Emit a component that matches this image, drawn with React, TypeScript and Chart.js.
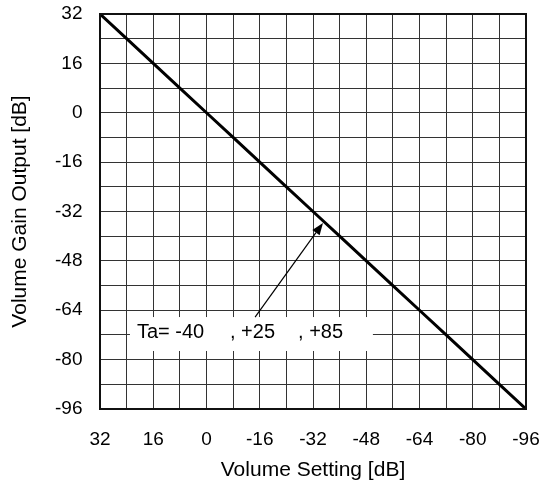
import React, { useEffect, useRef } from 'react';
import { Chart, registerables } from 'chart.js';

Chart.register(...registerables);

// Data
const volumeSetting = [32, 24, 16, 8, 0, -8, -16, -24, -32, -40, -48, -56, -64, -72, -80, -88, -96];
const gainOutput = [32, 24, 16, 8, 0, -8, -16, -24, -32, -40, -48, -56, -64, -72, -80, -88, -96];

// Grid lines (every 8 dB) and labelled ticks (every 16 dB)
const gridValues = [32, 24, 16, 8, 0, -8, -16, -24, -32, -40, -48, -56, -64, -72, -80, -88, -96];
const tickLabels = ['32', '16', '0', '-16', '-32', '-48', '-64', '-80', '-96'];

const annotationTexts = ['Ta= -40', ', +25', ', +85'];

const FONT = "'Liberation Sans', Arial, Helvetica, sans-serif";

const annotationPlugin = {
  id: 'annotationBox',
  afterDatasetsDraw(chart: any) {
    const { ctx, scales, chartArea } = chart;
    const xs = scales.x;
    const ys = scales.y;
    ctx.save();
    // frame
    ctx.strokeStyle = '#111';
    ctx.lineWidth = 2;
    ctx.strokeRect(chartArea.left, chartArea.top, chartArea.right - chartArea.left, chartArea.bottom - chartArea.top);

    // white label box
    const bx1 = xs.getPixelForValue(23.0);
    const bx2 = xs.getPixelForValue(-50.0);
    const by1 = ys.getPixelForValue(-66.2);
    const by2 = ys.getPixelForValue(-77.2);
    ctx.fillStyle = '#fff';
    ctx.fillRect(bx1, by1, bx2 - bx1, by2 - by1);

    // texts
    ctx.fillStyle = '#000';
    ctx.font = `20px ${FONT}`;
    ctx.textBaseline = 'alphabetic';
    ctx.textAlign = 'left';
    const textX = [20.9, -7.06, -27.5];
    const ty = ys.getPixelForValue(-73.0);
    annotationTexts.forEach((t, i) => {
      ctx.fillText(t, xs.getPixelForValue(textX[i]), ty);
    });

    // arrow
    const x0 = xs.getPixelForValue(-14.6);
    const y0 = ys.getPixelForValue(-66.2);
    const x1 = xs.getPixelForValue(-35.0);
    const y1 = ys.getPixelForValue(-35.7);
    const ang = Math.atan2(y1 - y0, x1 - x0);
    const headLen = 12;
    const headW = 4.5;
    const bxh = x1 - headLen * Math.cos(ang);
    const byh = y1 - headLen * Math.sin(ang);
    ctx.strokeStyle = '#000';
    ctx.lineWidth = 1.2;
    ctx.beginPath();
    ctx.moveTo(x0, y0);
    ctx.lineTo(bxh, byh);
    ctx.stroke();
    ctx.beginPath();
    ctx.moveTo(x1, y1);
    ctx.lineTo(bxh + headW * Math.sin(ang), byh - headW * Math.cos(ang));
    ctx.lineTo(bxh - headW * Math.sin(ang), byh + headW * Math.cos(ang));
    ctx.closePath();
    ctx.fill();
    ctx.restore();
  },
};

export default function App() {
  const canvasRef = useRef<HTMLCanvasElement | null>(null);

  useEffect(() => {
    if (!canvasRef.current) return;
    const tickCallback = (value: any) => {
      const s = String(Number(value) === 0 ? 0 : value);
      return tickLabels.includes(s) ? s : '';
    };
    const setTicks = (scale: any) => {
      scale.ticks = gridValues.map((v) => ({ value: v }));
    };
    const chart = new Chart(canvasRef.current, {
      type: 'line',
      data: {
        datasets: [
          {
            data: volumeSetting.map((x, i) => ({ x, y: gainOutput[i] })),
            borderColor: '#000',
            borderWidth: 3,
            pointRadius: 0,
            tension: 0,
            fill: false,
          },
        ],
      },
      options: {
        responsive: false,
        animation: false,
        devicePixelRatio: 1,
        layout: { padding: { top: 14, right: 21, left: 0, bottom: 0 } },
        plugins: {
          legend: { display: false },
          tooltip: { enabled: false },
        },
        scales: {
          x: {
            type: 'linear',
            min: -96,
            max: 32,
            reverse: true,
            afterBuildTicks: setTicks,
            afterFit: (scale: any) => {
              scale.height = 78;
              scale.paddingLeft = 0;
              scale.paddingRight = 0;
              scale.paddingTop = 0;
              scale.paddingBottom = 0;
            },
            grid: { color: '#333', lineWidth: 1, drawTicks: false },
            border: { display: false },
            ticks: {
              autoSkip: false,
              maxRotation: 0,
              padding: 19,
              color: '#000',
              font: { family: FONT, size: 19 },
              callback: tickCallback,
            },
            title: {
              display: true,
              text: 'Volume Setting [dB]',
              color: '#000',
              font: { family: FONT, size: 21 },
              padding: { top: 0, bottom: 4 },
            },
          },
          y: {
            type: 'linear',
            min: -96,
            max: 32,
            afterBuildTicks: setTicks,
            afterFit: (scale: any) => {
              scale.width = 100;
              scale.paddingLeft = 0;
              scale.paddingRight = 0;
              scale.paddingTop = 0;
              scale.paddingBottom = 0;
            },
            grid: { color: '#333', lineWidth: 1, drawTicks: false },
            border: { display: false },
            ticks: {
              autoSkip: false,
              padding: 17.5,
              color: '#000',
              font: { family: FONT, size: 19 },
              callback: tickCallback,
            },
            title: {
              display: true,
              text: 'Volume Gain Output [dB]',
              color: '#000',
              font: { family: FONT, size: 21 },
              padding: { top: 8, bottom: 0 },
            },
          },
        },
      },
      plugins: [annotationPlugin],
    });
    return () => chart.destroy();
  }, []);

  return (
    <div style={{ position: 'absolute', left: 0, top: 0, width: 547, height: 487, background: '#fff' }}>
      <canvas ref={canvasRef} width={547} height={487} style={{ display: 'block' }} />
    </div>
  );
}
